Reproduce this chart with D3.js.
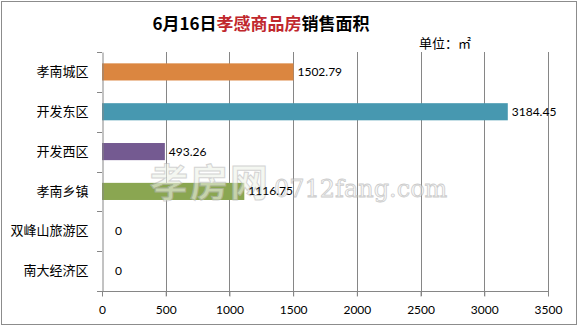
<!DOCTYPE html>
<html><head><meta charset="utf-8">
<script src="https://cdn.jsdelivr.net/npm/d3@7"></script>
<style>body{margin:0;background:#fff}svg{display:block}</style>
</head><body>
<script>
const categories = ["孝南城区","开发东区","开发西区","孝南乡镇","双峰山旅游区","南大经济区"];
const values = [1502.79, 3184.45, 493.26, 1116.75, 0, 0];
const colors = ["#DB8640","#4798B0","#745A91","#8AA651","#8AA651","#8AA651"];
const xTicks = [0,500,1000,1500,2000,2500,3000,3500];

(function(){
const W=579,H=327;
const svg=d3.select("body").append("svg").attr("width",W).attr("height",H);
svg.append("rect").attr("x",1.5).attr("y",1.5).attr("width",575).attr("height",323)
  .attr("fill","#fff").attr("stroke","#8c8c8c").attr("stroke-width",1);

const pl=102,pr=548,pt=52,pb=291;
const x=d3.scaleLinear().domain([0,3500]).range([pl,pr]);
const y=d3.scaleBand().domain(categories).range([pt,pb]).paddingInner(0.57).paddingOuter(0.285);
const yb=d3.scaleBand().domain(categories).range([pt,pb]);

// gridlines
svg.append("g").selectAll("line").data(xTicks.slice(1)).join("line")
  .attr("x1",d=>Math.round(x(d))+0.5).attr("x2",d=>Math.round(x(d))+0.5)
  .attr("y1",pt).attr("y2",pb+5).attr("stroke","#868686");

// bars
svg.append("g").selectAll("rect").data(values).join("rect")
  .attr("x",pl).attr("y",(d,i)=>y(categories[i]))
  .attr("width",d=>x(d)-pl).attr("height",y.bandwidth())
  .attr("fill",(d,i)=>colors[i]);

// watermark (over bars, semi-transparent)
const wm=svg.append("g").attr("opacity",0.6);
wm.append("text").attr("x",150).attr("y",196).attr("font-family","'Noto Sans CJK SC',sans-serif")
  .attr("font-size",38).attr("font-weight","bold").attr("fill","#eef2e8").attr("stroke","#b8b8b8").attr("stroke-width",1)
  .attr("letter-spacing",2).text("孝房网");
wm.append("text").attr("x",274).attr("y",197).attr("font-family","'DejaVu Serif',serif")
  .attr("font-size",24).attr("fill","#f4f4f4").attr("stroke","#aaa").attr("stroke-width",0.8)
  .text("0712fang.com");

// y axis
const yAxis=d3.axisLeft(yb).tickSize(0).tickPadding(14);
const gy=svg.append("g").attr("transform",`translate(${pl+0.5},0)`).call(yAxis);
gy.select(".domain").attr("stroke","#868686");
gy.selectAll("text").attr("font-family","'Noto Sans CJK SC',sans-serif").attr("font-size",13).attr("fill","#000");
svg.append("g").selectAll("line").data(d3.range(categories.length+1)).join("line")
  .attr("x1",pl-5).attr("x2",pl).attr("y1",i=>Math.round(pt+i*yb.step())+0.5).attr("y2",i=>Math.round(pt+i*yb.step())+0.5)
  .attr("stroke","#868686");

// x axis
const gx=svg.append("g").attr("transform",`translate(0,${pb+0.5})`)
  .call(d3.axisBottom(x).tickValues(xTicks).tickFormat(d3.format("d")).tickSize(5).tickPadding(9));
gx.select(".domain").attr("stroke","#868686").attr("d",`M${pl},0H${pr}`);
gx.selectAll(".tick line").attr("stroke","#868686");
gx.selectAll("text").attr("font-family","Lato, 'Open Sans', sans-serif").attr("font-size",12).attr("fill","#000");

// value labels
svg.append("g").selectAll("text").data(values).join("text")
  .attr("x",d=>d===0?x(d)+13:x(d)+4).attr("y",(d,i)=>y(categories[i])+y.bandwidth()/2+4)
  .attr("font-family","Lato, 'Open Sans', sans-serif").attr("font-size",12).attr("fill","#000")
  .text(d=>d===0?"0":d3.format(".2f")(d));

// title
const title=svg.append("text").attr("x",261).attr("y",30).attr("text-anchor","middle")
  .attr("font-family","'Noto Sans CJK SC',sans-serif").attr("font-size",17).attr("font-weight","bold");
title.append("tspan").attr("fill","#000").text("6月16日");
title.append("tspan").attr("fill","#C0272D").text("孝感商品房");
title.append("tspan").attr("fill","#000").text("销售面积");

svg.append("text").attr("x",419).attr("y",48).attr("font-family","'Noto Sans CJK SC',sans-serif")
  .attr("font-size",13).attr("fill","#000").text("单位：㎡");
})();
</script>
</body></html>
